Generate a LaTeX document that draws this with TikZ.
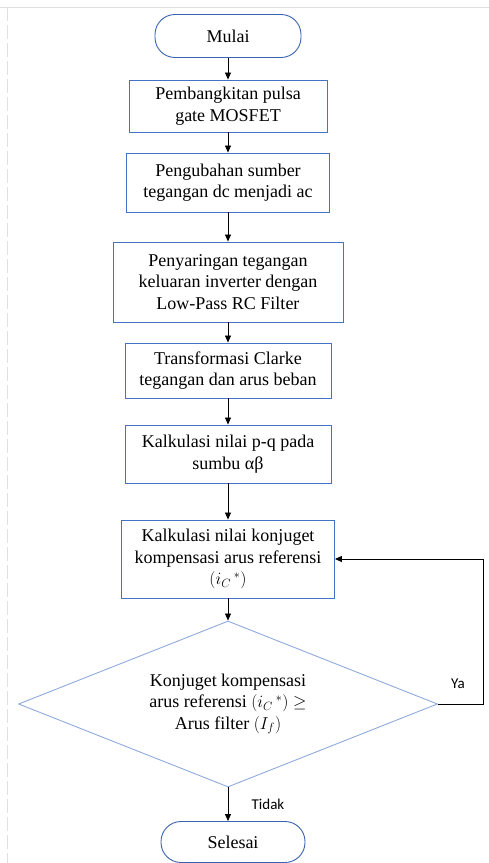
\documentclass[tikz,border=0pt]{standalone}
\usepackage{fontspec}
\setmainfont{Liberation Serif}
\newfontfamily\calib{Carlito}
\usetikzlibrary{shapes.geometric,arrows.meta}
\definecolor{boxblue}{HTML}{4472C4}
\definecolor{termblue}{HTML}{3A64B0}
\definecolor{diablue}{HTML}{8FAADC}
\begin{document}
\begin{tikzpicture}[x=1pt,y=-1pt,
 box/.style={draw=boxblue, line width=0.9pt, align=center, font=\fontsize{18}{21.5}\selectfont, inner sep=0pt},
 term/.style={box, draw=termblue, rounded corners=20pt},
 dia/.style={diamond, aspect=2.52, draw=diablue, line width=0.9pt, align=center, font=\fontsize{18}{21.5}\selectfont, inner sep=0pt},
 arr/.style={-{Triangle[length=7pt,width=6pt]}, line width=0.8pt},
 lbl/.style={font=\calib\fontsize{15}{17}\selectfont},
 frame/.style={draw=black!12, line width=0.8pt}]
\useasboundingbox (0,0) rectangle (489,863);
\fill[white] (0,0) rectangle (489,863);
\draw[frame] (0,7) -- (489,7);
\draw[frame, dash pattern=on 14pt off 4pt] (7,7) -- (7,863);

\node[term, minimum width=146pt, minimum height=43pt] (start) at (228,36) {Mulai};
\node[box, minimum width=198pt, minimum height=52pt] (b1) at (228,106) {Pembangkitan pulsa\\gate MOSFET};
\node[box, minimum width=203pt, minimum height=59pt] (b2) at (228,182.5) {Pengubahan sumber\\tegangan dc menjadi ac};
\node[box, minimum width=230pt, minimum height=80pt] (b3) at (228,282) {Penyaringan tegangan\\keluaran inverter dengan\\Low-Pass RC Filter};
\node[box, minimum width=206pt, minimum height=55pt] (b4) at (228,370.5) {Transformasi Clarke\\tegangan dan arus beban};
\node[box, minimum width=206pt, minimum height=58pt] (b5) at (228,454) {Kalkulasi nilai p-q pada\\sumbu αβ};
\node[box, minimum width=213pt, minimum height=78pt] (b6) at (228,559) {Kalkulasi nilai konjuget\\kompensasi arus referensi\\$(i_{C}\,{}^{*})$};
\node[dia, minimum width=419pt, minimum height=166pt] (d) at (228,704) {Konjuget kompensasi\\arus referensi $(i_{C}\,{}^{*}) \geq$\\Arus filter $(I_{f})$};
\node[term, minimum width=144pt, minimum height=41pt] (end) at (233,842) {Selesai};

\draw[arr] (start.south) -- (b1.north);
\draw[arr] (b1.south) -- (b2.north);
\draw[arr] (b2.south) -- (b3.north);
\draw[arr] (b3.south) -- (b4.north);
\draw[arr] (b4.south) -- (b5.north);
\draw[arr] (b5.south) -- (b6.north);
\draw[arr] (b6.south) -- (d.north);
\draw[arr] (d.south) -- (d.south |- end.north);
\draw[arr] (d.east) -- ++(45,0) coordinate (loopc) |- (b6.east);

\node[lbl] (ya) at (458,684) {Ya};
\node[lbl] (tidak) at (268,804) {Tidak};
\end{tikzpicture}
\end{document}
